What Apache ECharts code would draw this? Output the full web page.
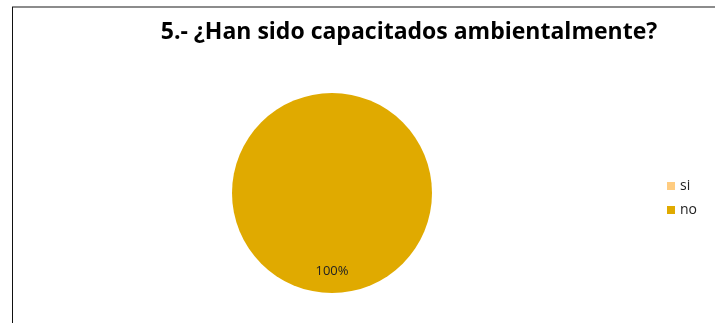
<!DOCTYPE html>
<html>
<head>
<meta charset="utf-8">
<script src="https://cdn.jsdelivr.net/npm/echarts@6/dist/echarts.min.js"></script>
<style>
html,body{margin:0;padding:0;background:#fff;}
#chart{width:715px;height:323px;}
</style>
</head>
<body>
<div id="chart"></div>
<script>
var titleText = '5.- ¿Han sido capacitados ambientalmente?';
var categories = ['si', 'no'];
var values = [0, 100];
var colors = ['#FFCC80', '#E0AA00'];

var chart = echarts.init(document.getElementById('chart'), null, {renderer: 'canvas'});
var total = values.reduce(function(a, b){ return a + b; }, 0);
var data = categories.map(function(c, i){
  return {
    name: c,
    value: values[i],
    itemStyle: {color: colors[i]},
    label: {show: values[i] > 0}
  };
});
chart.setOption({
  animation: false,
  backgroundColor: '#ffffff',
  title: {
    text: titleText,
    left: 404,
    top: 16,
    textAlign: 'center',
    textStyle: {fontFamily: 'Open Sans', fontWeight: 'bold', fontSize: 23, color: '#000'}
  },
  legend: {
    orient: 'vertical',
    left: 662,
    top: 174,
    itemWidth: 8,
    itemHeight: 8,
    itemGap: 10,
    icon: 'rect',
    data: categories,
    textStyle: {fontFamily: 'Open Sans', fontSize: 14, color: '#222'}
  },
  graphic: [
    {type: 'line', shape: {x1: 12, y1: 7, x2: 715, y2: 7}, style: {stroke: '#8c8c8c', lineWidth: 2}},
    {type: 'line', shape: {x1: 12.5, y1: 7, x2: 12.5, y2: 323}, style: {stroke: '#111', lineWidth: 1}}
  ],
  series: [{
    type: 'pie',
    center: [332, 193],
    radius: 100,
    startAngle: 90,
    silent: true,
    label: {
      position: 'inside',
      offset: [0, 25],
      fontFamily: 'Open Sans',
      fontSize: 13,
      color: '#222',
      formatter: function(p){ return Math.round(p.value / total * 100) + '%'; }
    },
    labelLine: {show: false},
    data: data
  }]
});
</script>
</body>
</html>
